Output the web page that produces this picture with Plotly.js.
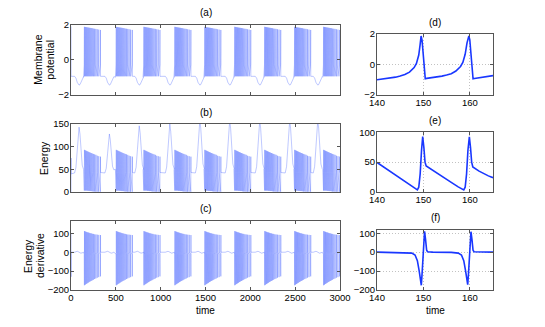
<!DOCTYPE html>
<html>
<head>
<meta charset="utf-8">
<script src="https://cdn.plot.ly/plotly-3.0.1.min.js"></script>
<style>
  html, body { margin: 0; padding: 0; background: #fff; }
  #chart { width: 545px; height: 327px; }
</style>
</head>
<body>
<div id="chart"></div>
<script>
// burst timing
const burstStarts = [149.5, 505, 813, 1158, 1492, 1826, 2160, 2494, 2817];
const dipTimes = [90, 428, 761, 1102, 1437, 1770, 2105, 2439, 2752];
const humpPeaks = [143, 128, 146, 150, 158, 158, 158, 158, 158];

// spikes inside one burst (offset from burst start)
const spikeOffsets = [0, 10.3, 20.7, 31.2, 41.9, 52.8, 64, 75.6, 87.6, 100.2, 113.5, 127.8, 143.2, 160, 179];
const vPeaks = [1.88, 1.87, 1.86, 1.85, 1.84, 1.83, 1.82, 1.81, 1.8, 1.78, 1.77, 1.76, 1.74, 1.72, 1.7];
const eTops = [93, 92, 91, 90, 89, 88, 87, 86, 85, 84, 83, 82, 80, 79, 78];
const eLows = [3, 3, 3, 3, 2.5, 2.5, 2, 2, 1.5, 1, 1, 0.5, 0.5, 0.5, 0.5];
const dTops = [112, 110, 108, 106, 105, 103, 101, 100, 98, 97, 95, 94, 93, 92, 91];
const dBottoms = [-175, -172, -168, -165, -162, -158, -155, -152, -149, -146, -142, -139, -135, -132, -128];

// quiet phase around each dip (offset from dip time)
const dipOffsets = [-50, -35, -20, -10, 0, 10, 20, 35, 50];
const vDip = [-0.95, -1.05, -1.3, -1.42, -1.45, -1.42, -1.3, -1.05, -0.97];
const humpShare = [0, 0.12, 0.5, 0.85, 1, 0.85, 0.5, 0.17, 0.08];
const humpBase = 42;
const dDip = [0, 3, 5, 3, 0, -3, -5, -3, 0];

// zoomed window, right column
const zoomT = [140, 142, 144, 145, 146, 147, 147.5, 148, 148.5, 149, 149.3, 149.5, 149.7, 150, 150.2, 150.4, 150.7, 152, 154, 155, 156, 157, 157.5, 158, 158.5, 159, 159.4, 159.8, 160, 160.3, 160.5, 160.7, 161, 162, 164, 165];
const zoomV = [-1.02, -0.95, -0.85, -0.78, -0.68, -0.52, -0.4, -0.22, 0.05, 0.6, 1.3, 1.85, 1.6, 0.3, -0.6, -0.95, -0.93, -0.88, -0.78, -0.71, -0.62, -0.45, -0.33, -0.15, 0.12, 0.65, 1.4, 1.85, 1.6, 0.3, -0.6, -0.96, -0.94, -0.9, -0.8, -0.75];
const zoomET = [140, 142, 144, 146, 147.5, 148.3, 148.7, 149, 149.3, 149.6, 149.85, 150.1, 150.35, 150.6, 152, 154, 156, 157.5, 158.3, 158.7, 159, 159.3, 159.6, 159.9, 160.15, 160.4, 160.65, 162, 164, 165];
const zoomE = [49.5, 39, 29, 18.5, 10, 5, 3.5, 8, 30, 70, 93, 75, 50, 43.5, 36, 26, 16, 8.5, 4.5, 3.5, 8, 30, 70, 92.5, 75, 50, 42, 35, 27, 24];
const zoomDT = [140, 146, 147.5, 148.2, 148.7, 149.1, 149.4, 149.55, 149.7, 149.9, 150.1, 150.25, 150.45, 150.7, 150.9, 152, 156, 157.5, 158.2, 158.7, 159.1, 159.4, 159.55, 159.7, 159.9, 160.1, 160.25, 160.45, 160.7, 160.9, 165];
const zoomD = [0, -1, -5, -15, -45, -100, -160, -175, -120, -10, 90, 110, 70, 10, 2, 0, -1, -5, -15, -45, -100, -160, -172, -120, -10, 90, 108, 70, 10, 2, 0];

// build the long traces from the readings above
const vx = [0, 0.8], vy = [1.9, -0.95];
const ex = [0, 0.4, 1.5], ey = [0, 75, 40];
const dx = [0, 0.4, 1.5], dy = [100, -130, 0];

burstStarts.forEach((b, c) => {
    const dip = dipTimes[c];
    dipOffsets.forEach((o, j) => {
        vx.push(dip + o); vy.push(vDip[j]);
        ex.push(dip + o); ey.push(humpBase + humpShare[j] * (humpPeaks[c] - humpBase));
        dx.push(dip + o); dy.push(dDip[j]);
    });
    vx.push(b - 9.5); vy.push(-1.0);
    ex.push(b - 9.5); ey.push(50);
    spikeOffsets.forEach((o, k) => {
        const s = b + o;
        vx.push(s - 2, s, s + 0.8); vy.push(-0.3, vPeaks[k], -0.95);
        ex.push(s - 1, s + 0.35, s + 1.1); ey.push(eLows[k], eTops[k], 43);
        dx.push(s - 1.5, s, s + 0.7, s + 1.3); dy.push(-10, dBottoms[k], dTops[k], 0);
    });
});

const thin = { color: 'rgba(40,75,255,0.75)', width: 0.4 };
const thick = { color: 'rgb(25,55,255)', width: 1.6 };

const traces = [
    { x: vx, y: vy, xaxis: 'x', yaxis: 'y', mode: 'lines', line: thin },
    { x: ex, y: ey, xaxis: 'x2', yaxis: 'y2', mode: 'lines', line: thin },
    { x: dx, y: dy, xaxis: 'x3', yaxis: 'y3', mode: 'lines', line: thin },
    { x: zoomT, y: zoomV, xaxis: 'x4', yaxis: 'y4', mode: 'lines', line: thick },
    { x: zoomET, y: zoomE, xaxis: 'x5', yaxis: 'y5', mode: 'lines', line: thick },
    { x: zoomDT, y: zoomD, xaxis: 'x6', yaxis: 'y6', mode: 'lines', line: thick }
];

const W = 545, H = 327;
const px = v => v / W;
const py = v => 1 - v / H;
const font = { family: 'Liberation Sans, Arial, sans-serif', size: 9.5, color: '#000' };

function axis(extra) {
    return Object.assign({
        showline: true, mirror: 'ticks', linecolor: '#555', linewidth: 1,
        ticks: 'inside', ticklen: 3, tickcolor: '#555', tickwidth: 1,
        zeroline: false, showgrid: false, tickfont: font, fixedrange: true,
        ticklabelstandoff: -1
    }, extra);
}

const leftDom = [px(71), px(340)];
const rightDom = [px(377), px(493)];
const gridOn = { showgrid: true, gridcolor: '#999', griddash: '1px,2px', gridwidth: 0.6 };
const leftTicks = [0, 500, 1000, 1500, 2000, 2500, 3000];
const rightTicks = [140, 150, 160];

const layout = {
    width: W, height: H,
    margin: { l: 0, r: 0, t: 0, b: 0 },
    paper_bgcolor: '#fff', plot_bgcolor: '#fff',
    showlegend: false, font: font,
    xaxis: axis({ domain: leftDom, anchor: 'y', range: [0, 3000], tickvals: leftTicks, showticklabels: false }),
    yaxis: axis({ domain: [py(94.7), py(24.7)], anchor: 'x', range: [-2, 2], tickvals: [-2, 0, 2] }),
    xaxis2: axis({ domain: leftDom, anchor: 'y2', range: [0, 3000], tickvals: leftTicks, showticklabels: false }),
    yaxis2: axis({ domain: [py(192), py(124)], anchor: 'x2', range: [0, 150], tickvals: [0, 50, 100, 150] }),
    xaxis3: axis({ domain: leftDom, anchor: 'y3', range: [0, 3000], tickvals: leftTicks }),
    yaxis3: axis({ domain: [py(290), py(220.7)], anchor: 'x3', range: [-200, 167], tickvals: [-200, -100, 0, 100] }),
    xaxis4: axis(Object.assign({ domain: rightDom, anchor: 'y4', range: [140, 165], tickvals: rightTicks }, gridOn)),
    yaxis4: axis(Object.assign({ domain: [py(94.7), py(33.7)], anchor: 'x4', range: [-2, 2], tickvals: [-2, 0, 2] }, gridOn)),
    xaxis5: axis(Object.assign({ domain: rightDom, anchor: 'y5', range: [140, 165], tickvals: rightTicks }, gridOn)),
    yaxis5: axis(Object.assign({ domain: [py(192), py(132.3)], anchor: 'x5', range: [0, 100], tickvals: [0, 50, 100] }, gridOn)),
    xaxis6: axis(Object.assign({ domain: rightDom, anchor: 'y6', range: [140, 165], tickvals: rightTicks }, gridOn)),
    yaxis6: axis(Object.assign({ domain: [py(290), py(230)], anchor: 'x6', range: [-200, 117], tickvals: [-200, -100, 0, 100] }, gridOn)),
    annotations: []
};

function label(text, x, y, angle, size) {
    layout.annotations.push({
        text: text, x: px(x), y: py(y), xref: 'paper', yref: 'paper',
        xanchor: 'center', yanchor: 'middle', showarrow: false,
        textangle: angle || 0, font: Object.assign({}, font, { size: size || 10 })
    });
}

label('(a)', 205.5, 12.7);
label('(b)', 205.5, 112);
label('(c)', 205.5, 208);
label('(d)', 435, 22.5);
label('(e)', 435, 120);
label('(f)', 435, 217);
label('Membrane', 38, 59.7, -90, 10.5);
label('potential', 50, 59.7, -90, 10.5);
label('Energy', 44, 158, -90, 10.5);
label('Energy', 28, 256, -90, 10.5);
label('derivative', 40, 256, -90, 10.5);
label('time', 205.5, 310, 0, 10);
label('time', 435, 310, 0, 10);

Plotly.newPlot('chart', traces, layout, { staticPlot: true, displayModeBar: false });
</script>
</body>
</html>
